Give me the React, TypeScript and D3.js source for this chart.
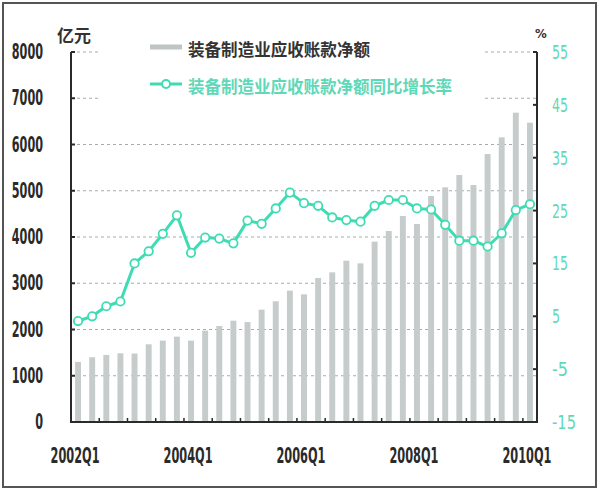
import React from "react";
import * as d3 from "d3";

const years = [2002, 2003, 2004, 2005, 2006, 2007, 2008, 2009, 2010];
const quarters: string[] = [];
years.forEach((y) => {
  [1, 2, 3, 4].forEach((q) => {
    if (y === 2010 && q > 1) return;
    quarters.push(`${y}Q${q}`);
  });
});

const netReceivables = [
  1300, 1400, 1450, 1485, 1480, 1680, 1760, 1845, 1760, 1975, 2076, 2190, 2160,
  2430, 2610, 2840, 2760, 3113, 3236, 3488, 3430, 3899, 4130, 4454, 4281, 4886,
  5074, 5340, 5124, 5795, 6155, 6688, 6471,
];
const growthRate = [
  4.1, 5.0, 6.9, 7.8, 15.0, 17.3, 20.6, 24.1, 17.0, 19.9, 19.7, 18.8, 23.1, 22.5,
  25.4, 28.4, 26.4, 25.9, 23.7, 23.2, 22.9, 25.9, 27.0, 27.0, 25.4, 25.2, 22.3,
  19.3, 19.3, 18.2, 20.7, 25.1, 26.2,
];
const leftTicks = [0, 1000, 2000, 3000, 4000, 5000, 6000, 7000, 8000];
const rightTicks = [-15, -5, 5, 15, 25, 35, 45, 55];
const xLabels = ["2002Q1", "2004Q1", "2006Q1", "2008Q1", "2010Q1"];
const legendBar = "装备制造业应收账款净额";
const legendLine = "装备制造业应收账款净额同比增长率";
const leftUnit = "亿元";
const rightUnit = "%";

const X0 = 71, X1 = 537, YT = 52, YB = 422;
const TEAL = "#3fdcb4";
const TEAL_TEXT = "#5fd8b8";
const DARK = "#2a2a2a";
const NUMFONT = "'Liberation Sans Narrow', 'DejaVu Sans Condensed', 'Liberation Sans', sans-serif";
const CJK = "'Noto Sans CJK SC', sans-serif";

export default function App() {
  const x = d3.scaleBand<string>().domain(quarters).range([X0, X1]).paddingInner(0.58).paddingOuter(0.29);
  const step = x.step();
  const yL = d3.scaleLinear().domain([0, 8000]).range([YB, YT]);
  const yR = d3.scaleLinear().domain([-15, 55]).range([YB, YT]);
  const cx = (q: string) => (x(q) as number) + x.bandwidth() / 2;
  const line = d3
    .line<number>()
    .x((_, i) => cx(quarters[i]))
    .y((d) => yR(d));

  const boundaryTicks = d3.range(2, quarters.length + 1, 2).map((k) => X0 + step * k);

  return (
    <svg width={600} height={492} style={{ position: "absolute", left: 0, top: 0, background: "#fff" }}>
      <rect x={0} y={0} width={600} height={492} fill="#fff" />
      <rect x={3} y={3} width={593} height={484} fill="none" stroke="#555" strokeWidth={2} />

      {/* gridlines */}
      {leftTicks.filter((t) => t > 0).map((t) => (
        <line key={t} x1={X0} x2={X1} y1={yL(t)} y2={yL(t)} stroke="#aaa" strokeWidth={1} strokeDasharray="3,3" />
      ))}

      {/* bars */}
      {netReceivables.map((v, i) => (
        <rect key={i} x={x(quarters[i])} y={yL(v)} width={x.bandwidth()} height={YB - yL(v)} fill="#c6cccc" />
      ))}

      {/* legend box covering gridlines */}
      <rect x={100} y={36} width={382} height={70} fill="#fff" />
      <line x1={150} x2={182} y1={47} y2={47} stroke="#bfc5c5" strokeWidth={5} />
      <text x={188} y={56} fontFamily={CJK} fontWeight={700} fontSize={17} fill="#333" textLength={182} lengthAdjust="spacingAndGlyphs">
        {legendBar}
      </text>
      <line x1={150} x2={182} y1={84} y2={84} stroke={TEAL} strokeWidth={3} />
      <circle cx={166} cy={84} r={4} fill="#fff" stroke={TEAL} strokeWidth={2} />
      <text x={188} y={93} fontFamily={CJK} fontWeight={700} fontSize={17} fill={TEAL_TEXT} textLength={264} lengthAdjust="spacingAndGlyphs">
        {legendLine}
      </text>

      {/* line series */}
      <path d={line(growthRate) || ""} fill="none" stroke={TEAL} strokeWidth={3} strokeLinejoin="round" />
      {growthRate.map((v, i) => (
        <circle key={i} cx={cx(quarters[i])} cy={yR(v)} r={4.2} fill="#fff" stroke={TEAL} strokeWidth={1.8} />
      ))}

      {/* axes */}
      <line x1={X0} x2={X0} y1={YT} y2={YB + 1} stroke={DARK} strokeWidth={2} />
      <line x1={X1} x2={X1} y1={YT} y2={YB + 1} stroke={DARK} strokeWidth={2} />
      <line x1={X0} x2={X1 + 1} y1={YB} y2={YB} stroke={DARK} strokeWidth={2} />
      {leftTicks.map((t) => (
        <line key={t} x1={X0} x2={X0 + 4} y1={yL(t)} y2={yL(t)} stroke={DARK} strokeWidth={2} />
      ))}
      {rightTicks.map((t) => (
        <line key={t} x1={X1 - 4} x2={X1} y1={yR(t)} y2={yR(t)} stroke={DARK} strokeWidth={2} />
      ))}
      {boundaryTicks.map((bx, i) => (
        <line key={i} x1={bx} x2={bx} y1={YB} y2={YB - 4} stroke={DARK} strokeWidth={1.5} />
      ))}

      {/* left tick labels */}
      {leftTicks.map((t) => {
        const s = String(t);
        return (
          <text key={t} x={43} y={yL(t) + 7} textAnchor="end" fontFamily={NUMFONT} fontWeight={700} fontSize={21} fill={DARK}
            textLength={s.length * 7.8} lengthAdjust="spacingAndGlyphs">
            {s}
          </text>
        );
      })}
      {/* right tick labels */}
      {rightTicks.map((t) => {
        const s = String(t);
        return (
          <text key={t} x={552} y={yR(t) + 7} fontFamily={NUMFONT} fontSize={20} fill={TEAL_TEXT}
            textLength={s.length * 8} lengthAdjust="spacingAndGlyphs">
            {s}
          </text>
        );
      })}
      {/* x labels */}
      {xLabels.map((q) => (
        <text key={q} x={cx(q) - 3} y={463} textAnchor="middle" fontFamily={NUMFONT} fontWeight={700} fontSize={21} fill={DARK}
          textLength={49} lengthAdjust="spacingAndGlyphs">
          {q}
        </text>
      ))}

      <text x={57} y={42} fontFamily={CJK} fontWeight={700} fontSize={17} fill="#333">{leftUnit}</text>
      <text x={535} y={38} fontFamily={NUMFONT} fontWeight={700} fontSize={13} fill="#333">{rightUnit}</text>
    </svg>
  );
}
